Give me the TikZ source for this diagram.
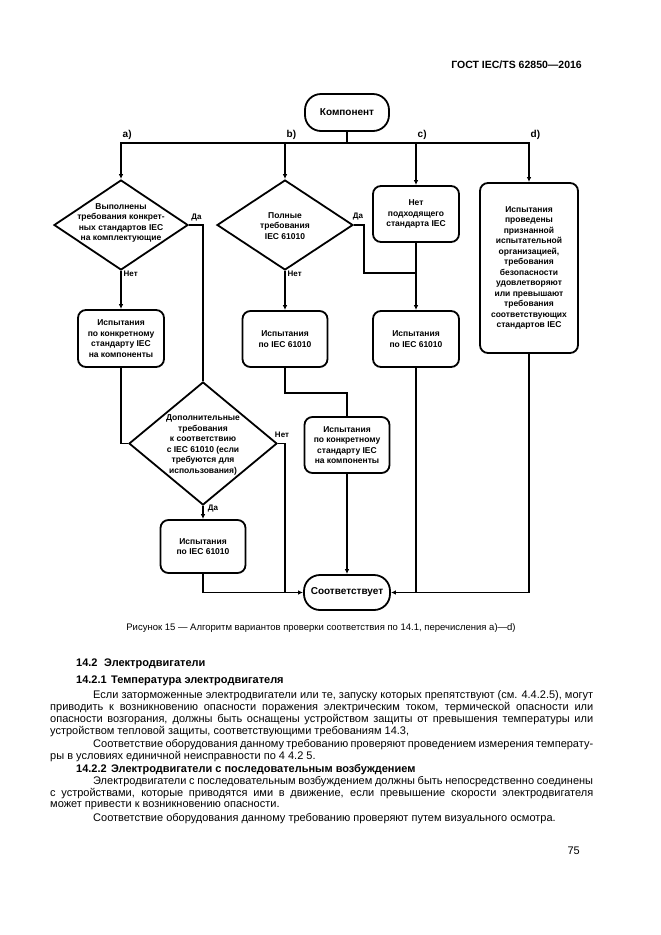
\documentclass[tikz,border=0pt]{standalone}
\usepackage{fontspec}
\setmainfont{Liberation Sans}
\usetikzlibrary{arrows.meta,shapes.geometric}
\newcommand{\chartfont}{\fontsize{8.5}{10.5}\selectfont\bfseries}
\newcommand{\termfont}{\fontsize{10}{12}\selectfont\bfseries}
\newcommand{\lblfont}{\fontsize{8}{9}\selectfont\bfseries}
\newcommand{\bodyfont}{\fontsize{11}{12}\selectfont}
\newcommand{\headfont}{\fontsize{11}{12}\selectfont\bfseries}
\tikzset{ box/.style = { draw
                       , line width      = 1.8pt
                       , rounded corners = 8pt
                       , align           = center
                       , inner sep       = 1pt
                       , font            = \chartfont
                       },
          term/.style = { box
                        , rounded corners = 16pt
                        , font            = \termfont
                        },
          dia/.style = { diamond
                       , draw
                       , line width = 1.8pt
                       , inner sep  = 0pt
                       },
          dtext/.style = { align = center, inner sep = 0pt, font = \chartfont },
          lbl/.style = { inner sep = 0.5pt, font = \lblfont },
          txt/.style = { anchor = west, inner sep = 0pt, font = \bodyfont },
          wire/.style = { line width = 1.8pt },
          arr/.style = { wire, -{Latex[length=5pt,width=4.5pt]} }
        }
\begin{document}
\begin{tikzpicture}[x=1pt, y=-1pt]
  \useasboundingbox (0,0) rectangle (661,935);
  \node[anchor=east, inner sep=0pt, font=\fontsize{10.5}{12}\selectfont\bfseries] (gost) at (582,65) {ГОСТ IEC/TS 62850—2016};

  % flowchart
  \node[term, minimum width=84pt, minimum height=37pt] (comp) at (347,112.5) {Компонент};
  \foreach \n/\x in {a/121, b/285, c/416, d/529} {
    \coordinate (bus\n) at (\x,143);
    \node[lbl, anchor=west, font=\termfont] (l\n) at (\x+1,135) {\n)};
  }
  \node[dia, minimum width=134pt, minimum height=90pt] (da) at (121,225) {};
  \node[dtext] (dat) at (121,223) {Выполнены\\требования конкрет-\\ных стандартов IEC\\на комплектующие};
  \node[dia, minimum width=136pt, minimum height=90pt] (db) at (285,225) {};
  \node[dtext] (dbt) at (285,226) {Полные\\требования\\IEC 61010};
  \node[box, minimum width=86pt, minimum height=56pt] (c1) at (416,214) {Нет\\подходящего\\стандарта IEC};
  \node[box, minimum width=98pt, minimum height=170pt] (d) at (529,268)
    {Испытания\\проведены\\признанной\\испытательной\\организацией,\\требования\\безопасности\\удовлетворяют\\или превышают\\требования\\соответствующих\\стандартов IEC};
  \node[box, minimum width=86pt, minimum height=57pt] (a1) at (121,338.5) {Испытания\\по конкретному\\стандарту IEC\\на компоненты};
  \node[box, minimum width=85pt, minimum height=56pt] (b1) at (285,339) {Испытания\\по IEC 61010};
  \node[box, minimum width=86pt, minimum height=56pt] (c2) at (416,339) {Испытания\\по IEC 61010};
  \node[dia, minimum width=148pt, minimum height=123pt] (dd) at (203,443.5) {};
  \node[dtext] (ddt) at (203,445) {Дополнительные\\требования\\к соответствию\\с IEC 61010 (если\\требуются для\\использования)};
  \node[box, minimum width=85pt, minimum height=56pt] (b2) at (347,445) {Испытания\\по конкретному\\стандарту IEC\\на компоненты};
  \node[box, minimum width=85pt, minimum height=53pt] (a2) at (203,546.5) {Испытания\\по IEC 61010};
  \node[term, minimum width=86pt, minimum height=35pt] (ok) at (347,592.5) {Соответствует};
  \coordinate (jc) at (416,273);

  \node[lbl] (yes1) at (196.5,218) {Да};
  \node[lbl, anchor=west] (no1) at (123,274) {Нет};
  \node[lbl] (yes2) at (358,217) {Да};
  \node[lbl, anchor=west] (no2) at (287,274) {Нет};
  \node[lbl] (no3) at (282,435) {Нет};
  \node[lbl] (yes3) at (213,509) {Да};

  \draw[wire] (comp.south) -- (comp.south |- busa);
  \draw[arr] (busc) -- (busa) -- (da.north);
  \draw[arr] (busc) -- (busd) -- (d.north);
  \draw[arr] (busb) -- (db.north);
  \draw[arr] (busc) -- (c1.north);
  \draw[wire] (da.east) -| (dd.north);
  \draw[arr] (da.south) -- (a1.north);
  \draw[wire] (a1.south) |- (dd.west);
  \draw[arr] (dd.south) -- (a2.north);
  \draw[arr] (a2.south) |- (ok.west);
  \draw[wire] (dd.east) -| (busb |- ok.west);
  \draw[wire] (db.east) -- ++(10,0) |- (jc);
  \draw[arr] (db.south) -- (b1.north);
  \draw[arr] (c1.south) -- (c2.north);
  \draw[wire] (b1.south) -- ++(0,25) -| (b2.north);
  \draw[arr] (b2.south) -- (ok.north);
  \draw[wire] (c2.south) -- (c2.south |- ok.east);
  \draw[arr] (d.south) |- (ok.east);

  % caption and text
  \node[inner sep=0pt, font=\fontsize{9.5}{11}\selectfont] (cap) at (321,628)
    {Рисунок 15 — Алгоритм вариантов проверки соответствия по 14.1, перечисления а)—d)};
  \node[txt, font=\headfont] (h1) at (76,664) {14.2\hspace{0.6em}Электродвигатели};
  \node[txt, font=\headfont] (h2) at (76,681) {14.2.1\hspace{0.4em}Температура электродвигателя};
  \node[txt] (p1) at (93,696) {\makebox[500pt][s]{Если заторможенные электродвигатели или те, запуску которых препятствуют (см. 4.4.2.5), могут}};
  \node[txt] (p2) at (50,708) {\makebox[543pt][s]{приводить к возникновению опасности поражения электрическим током, термической опасности или}};
  \node[txt] (p3) at (50,720) {\makebox[543pt][s]{опасности возгорания, должны быть оснащены устройством защиты от превышения температуры или}};
  \node[txt] (p4) at (50,732) {устройством тепловой защиты, соответствующими требованиям 14.3,};
  \node[txt] (p5) at (93,745) {\makebox[500pt][s]{Соответствие оборудования данному требованию проверяют проведением измерения температу-}};
  \node[txt] (p6) at (50,757) {ры в условиях единичной неисправности по 4 4.2 5.};
  \node[txt, font=\headfont] (h3) at (76,770) {14.2.2\hspace{0.4em}Электродвигатели с последовательным возбуждением};
  \node[txt] (p7) at (93,782) {\makebox[500pt][s]{Электродвигатели с последовательным возбуждением должны быть непосредственно соединены}};
  \node[txt] (p8) at (50,794) {\makebox[543pt][s]{с устройствами, которые приводятся ими в движение, если превышение скорости электродвигателя}};
  \node[txt] (p9) at (50,806) {может привести к возникновению опасности.};
  \node[txt] (p10) at (93,819) {Соответствие оборудования данному требованию проверяют путем визуального осмотра.};
  \node[anchor=east, inner sep=0pt, font=\bodyfont] (page) at (580,851) {75};
\end{tikzpicture}
\end{document}
